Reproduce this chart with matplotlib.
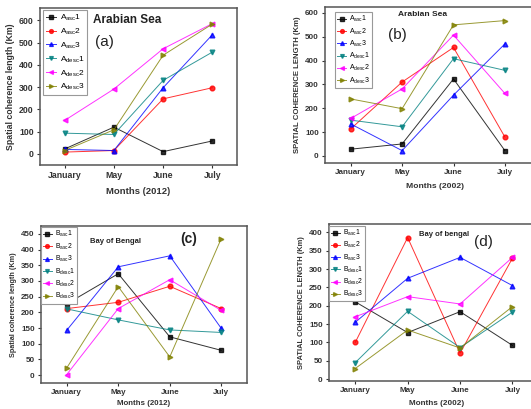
import matplotlib
matplotlib.use("Agg")
import matplotlib.pyplot as plt

plt.rcParams['font.family'] = ['Liberation Sans', 'DejaVu Sans']
plt.rcParams['mathtext.fontset'] = 'custom'
plt.rcParams['mathtext.rm'] = 'Liberation Sans'
plt.rcParams['mathtext.it'] = 'Liberation Sans'
plt.rcParams['mathtext.bf'] = 'Liberation Sans:bold'

months = ["January", "May", "June", "July"]

# (a) Arabian Sea, 2012
a2012_asc1 = [22, 120, 10, 58]
a2012_asc2 = [8, 15, 247, 297]
a2012_asc3 = [20, 15, 297, 535]
a2012_desc1 = [93, 87, 330, 457]
a2012_desc2 = [150, 291, 472, 585]
a2012_desc3 = [15, 108, 443, 583]

# (b) Arabian Sea, 2002
a2002_asc1 = [28, 50, 323, 22]
a2002_asc2 = [113, 310, 455, 79]
a2002_asc3 = [134, 22, 255, 470]
a2002_desc1 = [150, 122, 408, 359]
a2002_desc2 = [157, 281, 507, 262]
a2002_desc3 = [239, 198, 550, 568]

# (c) Bay of Bengal, 2012
b2012_asc1 = [227, 323, 122, 79]
b2012_asc2 = [212, 232, 283, 212]
b2012_asc3 = [143, 345, 380, 149]
b2012_desc1 = [211, 176, 144, 136]
b2012_desc2 = [2, 212, 304, 206]
b2012_desc3 = [23, 282, 58, 435]

# (d) Bay of Bengal, 2002
b2002_asc1 = [211, 127, 184, 92]
b2002_asc2 = [100, 386, 71, 330]
b2002_asc3 = [155, 275, 332, 255]
b2002_desc1 = [45, 185, 86, 183]
b2002_desc2 = [170, 225, 205, 332]
b2002_desc3 = [29, 134, 85, 198]

colors = ["#000000", "#ff0000", "#0000ff", "#008080", "#ff00ff", "#808000"]
markers = ["s", "o", "^", "v", "<", ">"]
suffixes = ["$_{asc}$1", "$_{asc}$2", "$_{asc}$3", "$_{desc}$1", "$_{desc}$2", "$_{desc}$3"]

W, H = 531, 409
fig = plt.figure(figsize=(W / 100, H / 100), dpi=100)


def px_axes(left, top, right, bottom):
    return fig.add_axes([left / W, 1 - bottom / H, (right - left) / W, (bottom - top) / H])


def panel(ax, series, prefix, ylim, yticks, ylabel, xlabel, legend_xy,
          leg_fs, leg_sp, tick_fs, lab_fs, xlabelpad):
    x = list(range(len(months)))
    for vals, c, m, s in zip(series, colors, markers, suffixes):
        ax.plot(x, vals, color=c, lw=0.7, alpha=0.8, marker=m, ms=3.4,
                mfc=c, mec=c, label=prefix + s)
    ax.set_xlim(-0.5, 3.5)
    ax.set_ylim(*ylim)
    ax.set_xticks(x)
    ax.set_xticklabels(months, fontsize=tick_fs, fontweight='bold')
    ax.set_yticks(yticks)
    ax.set_yticklabels([str(t) for t in yticks], fontsize=tick_fs, fontweight='bold')
    ax.tick_params(direction='out', length=2.5, width=0.8, pad=2, colors='#333333')
    ax.set_ylabel(ylabel, fontsize=lab_fs, fontweight='bold', labelpad=3, color='#333333')
    ax.set_xlabel(xlabel, fontsize=lab_fs + 0.5, fontweight='bold', labelpad=xlabelpad,
                  color='#333333')
    for sp in ax.spines.values():
        sp.set_color('#555555')
        sp.set_linewidth(1.1)
    leg = ax.legend(loc='upper left', bbox_to_anchor=(legend_xy[0] / W, 1 - legend_xy[1] / H),
                    bbox_transform=fig.transFigure, fontsize=leg_fs, frameon=True,
                    fancybox=False, edgecolor='#999999', framealpha=1, handlelength=1.3,
                    handletextpad=0.4, labelspacing=leg_sp, borderpad=0.3,
                    borderaxespad=0, markerscale=0.8)
    leg.get_frame().set_linewidth(0.8)


ax_a = px_axes(40, 8, 237, 165)
panel(ax_a, [a2012_asc1, a2012_asc2, a2012_asc3, a2012_desc1, a2012_desc2, a2012_desc3],
      "A", (-50, 655), [0, 100, 200, 300, 400, 500, 600],
      "Spatial coherence length (Km)", "Months (2012)", (43, 10),
      leg_fs=6.0, leg_sp=0.45, tick_fs=6.3, lab_fs=6.3, xlabelpad=5)
fig.text(93 / W, 1 - 20 / H, "Arabian Sea", fontsize=8.5, fontweight='bold',
         va='center', ha='left', color='#222222')
fig.text(95 / W, 1 - 42 / H, "(a)", fontsize=11, va='center', ha='left', color='#222222')

ax_b = px_axes(325, 7, 545, 163)
panel(ax_b, [a2002_asc1, a2002_asc2, a2002_asc3, a2002_desc1, a2002_desc2, a2002_desc3],
      "A", (-30, 625), [0, 100, 200, 300, 400, 500, 600],
      "SPATIAL COHERENCE LENGTH (Km)", "Months (2002)", (335, 12),
      leg_fs=5.0, leg_sp=0.3, tick_fs=5.8, lab_fs=5.6, xlabelpad=5)
ax_b.set_xlim(-0.5, 3.78)
fig.text(398 / W, 1 - 15 / H, "Arabian Sea", fontsize=6, fontweight='bold',
         va='center', ha='left', color='#222222')
fig.text(388 / W, 1 - 35 / H, "(b)", fontsize=11, va='center', ha='left', color='#222222')

ax_c = px_axes(41, 226, 247, 383)
panel(ax_c, [b2012_asc1, b2012_asc2, b2012_asc3, b2012_desc1, b2012_desc2, b2012_desc3],
      "B", (-25, 475), [0, 50, 100, 150, 200, 250, 300, 350, 400, 450],
      "Spatial coherence length (Km)", "Months (2012)", (41, 227),
      leg_fs=4.9, leg_sp=0.33, tick_fs=5.8, lab_fs=5.2, xlabelpad=3)
fig.text(90 / W, 1 - 242 / H, "Bay of Bengal", fontsize=5.5, fontweight='bold',
         va='center', ha='left', color='#222222')
fig.text(180 / W, 1 - 239 / H, "(c)", fontsize=10, fontweight='bold',
         va='center', ha='left', color='#222222')

ax_d = px_axes(329, 224, 545, 381)
panel(ax_d, [b2002_asc1, b2002_asc2, b2002_asc3, b2002_desc1, b2002_desc2, b2002_desc3],
      "B", (-5, 423), [0, 50, 100, 150, 200, 250, 300, 350, 400],
      "SPATIAL COHERENCE LENGTH (Km)", "Months (2002)", (329, 226),
      leg_fs=4.9, leg_sp=0.3, tick_fs=5.8, lab_fs=5.4, xlabelpad=4)
ax_d.set_xlim(-0.5, 3.62)
fig.text(419 / W, 1 - 234 / H, "Bay of bengal", fontsize=5.5, fontweight='bold',
         va='center', ha='left', color='#222222')
fig.text(474 / W, 1 - 242 / H, "(d)", fontsize=11, va='center', ha='left', color='#222222')

fig.savefig("out.png", dpi=100)
